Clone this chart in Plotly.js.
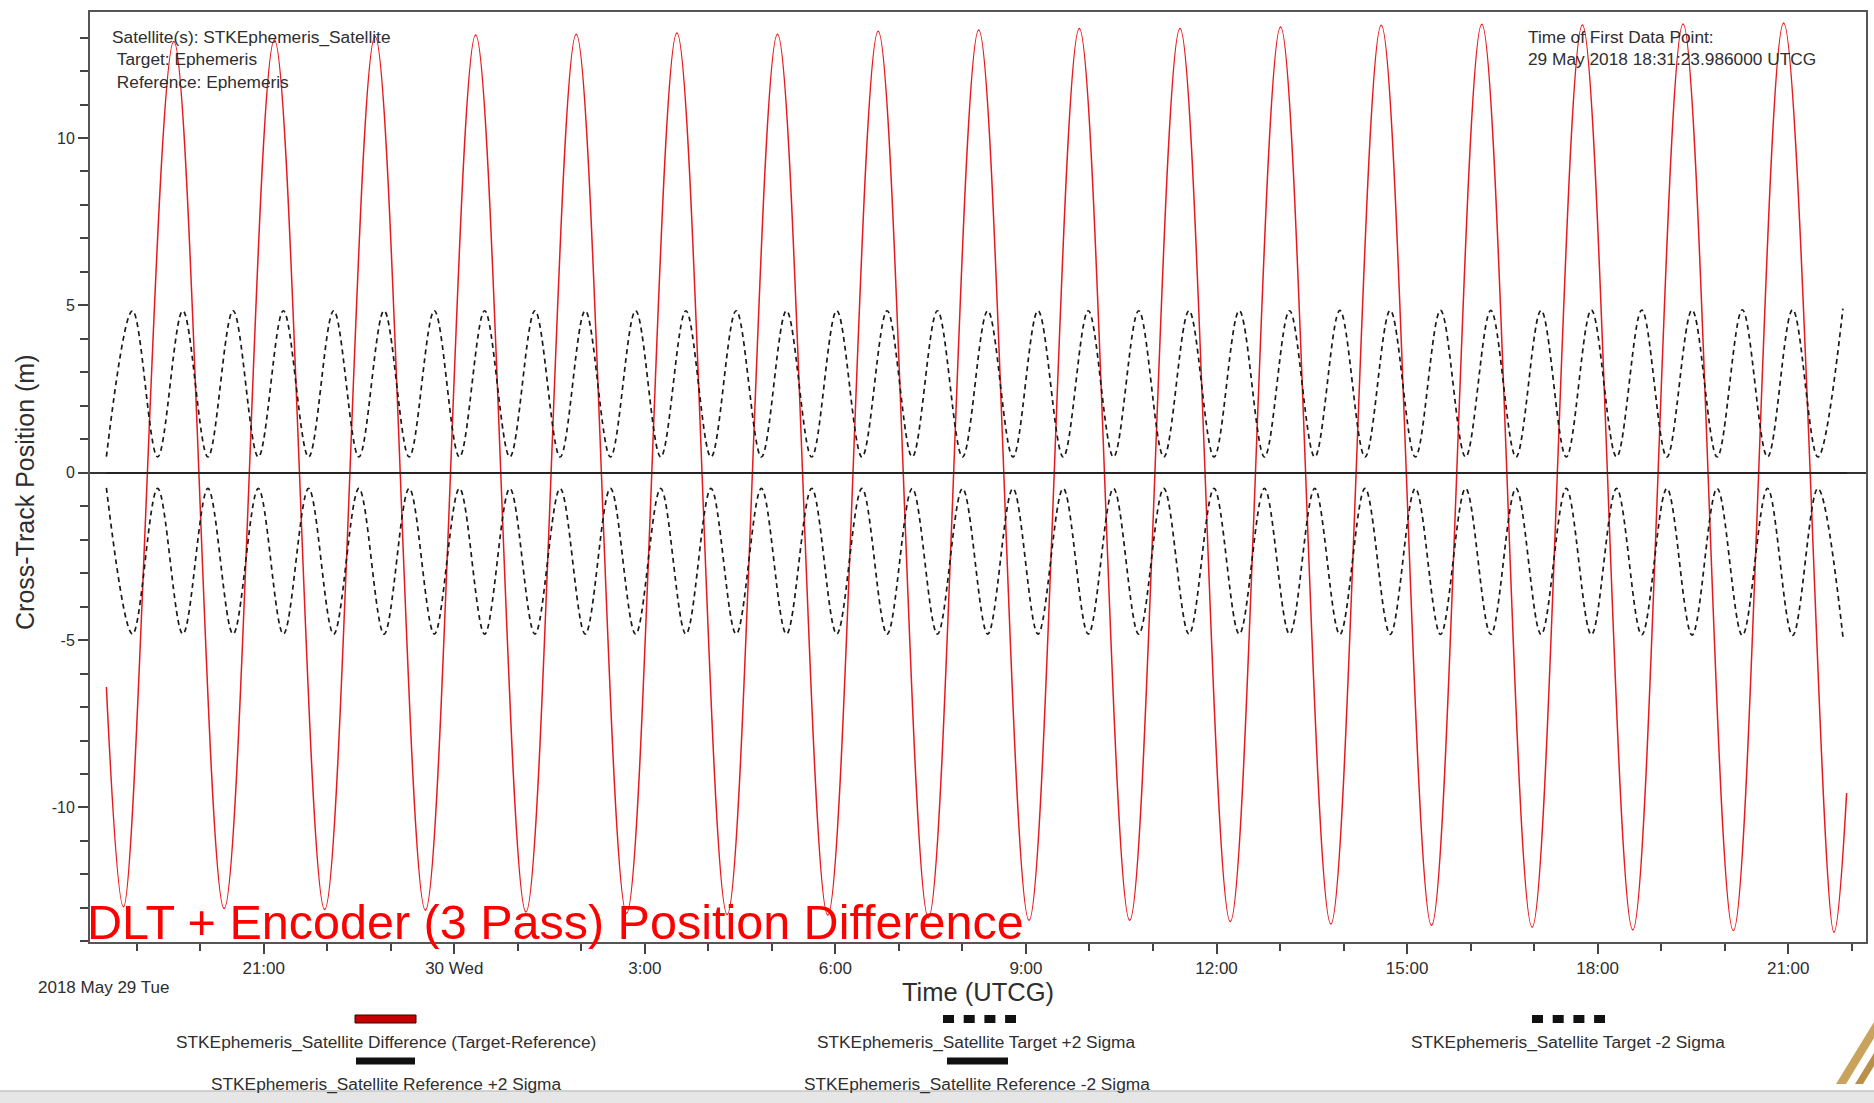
<!DOCTYPE html>
<html>
<head>
<meta charset="utf-8">
<script src="https://cdn.plot.ly/plotly-3.0.1.min.js"></script>
<style>
html,body{margin:0;padding:0;background:#ffffff;}
#chart{width:1874px;height:1103px;}
</style>
</head>
<body>
<div id="chart"></div>
<script>
// ---------- data ----------
const firstPoint = '2018-05-29T18:31:23.986Z';   // Time of First Data Point

// Difference (Target-Reference): minutes after first point, metres
const diffMinutes = [0, 16.2, 63.7, 111.2, 158.7, 206.2, 253.8, 301.3, 348.8, 396.3, 443.8,
  491.4, 538.9, 586.4, 633.9, 681.4, 729.0, 776.5, 824.0, 871.5, 919.0, 966.6, 1014.1,
  1061.6, 1109.1, 1156.6, 1204.2, 1251.7, 1299.2, 1346.7, 1394.2, 1441.8, 1489.3,
  1536.8, 1584.3, 1631.8, 1643.8];
const diffValues = [-6.4, -12.97, 12.88, -13.02, 12.93, -13.05, 13.03, -13.07, 13.08, -13.12, 13.10,
  -13.16, 13.14, -13.20, 13.10, -13.22, 13.19, -13.30, 13.23, -13.37, 13.27, -13.37, 13.27,
  -13.41, 13.32, -13.48, 13.37, -13.52, 13.40, -13.58, 13.38, -13.66, 13.41,
  -13.68, 13.44, -13.73, -9.57];

// Target +/-2 Sigma: minutes after first point, metres
const sigmaMinutes = [0, 24.7, 48.4, 72.2, 95.9, 119.7, 143.5, 167.2, 191.0, 214.7, 238.5,
  262.3, 286.0, 309.8, 333.5, 357.3, 381.1, 404.8, 428.6, 452.3, 476.1, 499.9, 523.6,
  547.4, 571.1, 594.9, 618.7, 642.4, 666.2, 689.9, 713.7, 737.5, 761.2, 785.0, 808.7,
  832.5, 856.3, 880.0, 903.8, 927.5, 951.3, 975.1, 998.8, 1022.6, 1046.3, 1070.1, 1093.9,
  1117.6, 1141.4, 1165.1, 1188.9, 1212.7, 1236.4, 1260.2, 1283.9, 1307.7, 1331.5, 1355.2,
  1379.0, 1402.7, 1426.5, 1450.3, 1474.0, 1497.8, 1521.5, 1545.3, 1569.1, 1592.8, 1616.6, 1640.3];
const targetPlusValues = [0.48, 4.84, 0.47, 4.84, 0.47, 4.84, 0.47, 4.84, 0.47, 4.84, 0.47,
  4.84, 0.47, 4.84, 0.47, 4.84, 0.47, 4.84, 0.47, 4.84, 0.47, 4.84, 0.47,
  4.84, 0.47, 4.84, 0.47, 4.84, 0.47, 4.84, 0.47, 4.84, 0.47, 4.84, 0.47,
  4.84, 0.47, 4.84, 0.47, 4.84, 0.47, 4.84, 0.47, 4.84, 0.47, 4.84, 0.47,
  4.84, 0.47, 4.85, 0.47, 4.85, 0.47, 4.85, 0.47, 4.85, 0.47, 4.85,
  0.47, 4.86, 0.47, 4.86, 0.47, 4.86, 0.47, 4.87, 0.47, 4.87, 0.47, 4.90];
const targetMinusValues = [-0.45, -4.82, -0.47, -4.82, -0.47, -4.82, -0.47, -4.82, -0.47, -4.82, -0.47,
  -4.82, -0.47, -4.82, -0.47, -4.82, -0.47, -4.82, -0.47, -4.82, -0.47, -4.82, -0.47,
  -4.82, -0.47, -4.82, -0.47, -4.82, -0.47, -4.82, -0.47, -4.82, -0.47, -4.82, -0.47,
  -4.82, -0.47, -4.82, -0.47, -4.82, -0.47, -4.82, -0.47, -4.82, -0.47, -4.82, -0.47,
  -4.82, -0.47, -4.83, -0.47, -4.83, -0.47, -4.83, -0.47, -4.83, -0.47, -4.83,
  -0.47, -4.84, -0.47, -4.84, -0.47, -4.85, -0.47, -4.86, -0.47, -4.86, -0.47, -4.90];

// Reference +/-2 Sigma
const refMinutes = [0, 1643.8];
const refPlusValues = [0, 0];
const refMinusValues = [0, 0];

// axes
const xRange = ['2018-05-29 18:15:55', '2018-05-30 22:13:30'];
const yRange = [-14.02, 13.765];
const xTickVals = ['2018-05-29 21:00', '2018-05-30 00:00', '2018-05-30 03:00', '2018-05-30 06:00',
  '2018-05-30 09:00', '2018-05-30 12:00', '2018-05-30 15:00', '2018-05-30 18:00', '2018-05-30 21:00'];
const xTickText = ['21:00', '30 Wed', '3:00', '6:00', '9:00', '12:00', '15:00', '18:00', '21:00'];
const yTickVals = [-10, -5, 0, 5, 10];
const yTickText = ['-10', '-5', '0', '5', '10'];

const seriesNames = ['STKEphemeris_Satellite Difference (Target-Reference)',
  'STKEphemeris_Satellite Target +2 Sigma', 'STKEphemeris_Satellite Target -2 Sigma',
  'STKEphemeris_Satellite Reference +2 Sigma', 'STKEphemeris_Satellite Reference -2 Sigma'];

// ---------- helpers ----------
function toTime(m) {
  const d = new Date(Date.parse(firstPoint) + m * 60000);
  return d.toISOString().replace('T', ' ').replace('Z', '');
}
const W = 1874, H = 1103;
const PL = 90, PR = 1866, PT = 12, PB = 942;
const px = x => (x - PL) / (PR - PL);
const py = y => (PB - y) / (PB - PT);
const FONT = 'Liberation Sans, Arial, sans-serif';
const TXT = '#2e2e2e';

// ---------- traces ----------
const traces = [
  { type: 'scatter', mode: 'lines', name: seriesNames[0],
    x: diffMinutes.map(toTime), y: diffValues,
    line: { color: '#e8191c', width: 1.5, shape: 'spline', smoothing: 1 } },
  { type: 'scatter', mode: 'lines', name: seriesNames[1],
    x: sigmaMinutes.map(toTime), y: targetPlusValues,
    line: { color: '#1a1a1a', width: 1.7, dash: '5px,4px', shape: 'spline', smoothing: 1 } },
  { type: 'scatter', mode: 'lines', name: seriesNames[2],
    x: sigmaMinutes.map(toTime), y: targetMinusValues,
    line: { color: '#1a1a1a', width: 1.7, dash: '5px,4px', shape: 'spline', smoothing: 1 } },
  { type: 'scatter', mode: 'lines', name: seriesNames[3],
    x: refMinutes.map(toTime), y: refPlusValues,
    line: { color: '#222222', width: 1.5 } },
  { type: 'scatter', mode: 'lines', name: seriesNames[4],
    x: refMinutes.map(toTime), y: refMinusValues,
    line: { color: '#222222', width: 1.5 } }
];

// ---------- custom legend (symbol above text) ----------
const legendItems = [
  { kind: 'red',  x0: 355, x1: 416, ys: 1019, tx: 386, ty: 1042, name: seriesNames[0] },
  { kind: 'dash', x0: 943, x1: 1016, ys: 1019, tx: 976, ty: 1042, name: seriesNames[1] },
  { kind: 'dash', x0: 1532, x1: 1605, ys: 1019, tx: 1568, ty: 1042, name: seriesNames[2] },
  { kind: 'solid', x0: 356, x1: 415, ys: 1061, tx: 386, ty: 1084, name: seriesNames[3] },
  { kind: 'solid', x0: 947, x1: 1008, ys: 1061, tx: 977, ty: 1084, name: seriesNames[4] }
];

const shapes = [];
const annotations = [];
legendItems.forEach(it => {
  if (it.kind === 'red') {
    shapes.push({ type: 'rect', xref: 'paper', yref: 'paper',
      x0: px(it.x0), x1: px(it.x1), y0: py(it.ys - 4), y1: py(it.ys + 4),
      fillcolor: '#c40000', line: { color: '#3a0000', width: 1 } });
  } else if (it.kind === 'solid') {
    shapes.push({ type: 'rect', xref: 'paper', yref: 'paper',
      x0: px(it.x0), x1: px(it.x1), y0: py(it.ys - 3.5), y1: py(it.ys + 3.5),
      fillcolor: '#111111', line: { width: 0 } });
  } else {
    shapes.push({ type: 'line', xref: 'paper', yref: 'paper',
      x0: px(it.x0), x1: px(it.x1), y0: py(it.ys), y1: py(it.ys),
      line: { color: '#111111', width: 8, dash: '11px,9.7px' } });
  }
  annotations.push({ xref: 'paper', yref: 'paper', x: px(it.tx), y: py(it.ty),
    xanchor: 'center', yanchor: 'middle', showarrow: false, text: it.name,
    font: { family: FONT, size: 17.3, color: TXT } });
});

// bottom window strip and partial logo
shapes.push({ type: 'rect', xref: 'paper', yref: 'paper', layer: 'below',
  x0: px(0), x1: px(W), y0: py(H), y1: py(1091),
  fillcolor: '#e6e6e6', line: { width: 0 } });
shapes.push({ type: 'line', xref: 'paper', yref: 'paper',
  x0: px(0), x1: px(W), y0: py(1091), y1: py(1091),
  line: { color: '#c4c4c4', width: 1.5 } });
shapes.push({ type: 'path', xref: 'paper', yref: 'paper',
  path: 'M' + px(1836) + ',' + py(1084) + ' L' + px(1846) + ',' + py(1084) +
        ' L' + px(1874) + ',' + py(1038) + ' L' + px(1874) + ',' + py(1022) + ' Z',
  fillcolor: '#c9a35c', line: { width: 0 } });
shapes.push({ type: 'path', xref: 'paper', yref: 'paper',
  path: 'M' + px(1855) + ',' + py(1084) + ' L' + px(1863) + ',' + py(1084) +
        ' L' + px(1874) + ',' + py(1066) + ' L' + px(1874) + ',' + py(1053) + ' Z',
  fillcolor: '#b8904a', line: { width: 0 } });

// info texts
annotations.push({ xref: 'paper', yref: 'paper', x: px(110), y: py(59),
  xanchor: 'left', yanchor: 'middle', align: 'left', showarrow: false,
  text: 'Satellite(s): STKEphemeris_Satellite<br>\u00a0Target: Ephemeris<br>\u00a0Reference: Ephemeris',
  font: { family: FONT, size: 17.3, color: TXT } });
annotations.push({ xref: 'paper', yref: 'paper', x: px(1526), y: py(48),
  xanchor: 'left', yanchor: 'middle', align: 'left', showarrow: false,
  text: 'Time of First Data Point:<br>29 May 2018 18:31:23.986000 UTCG',
  font: { family: FONT, size: 17.3, color: TXT } });
annotations.push({ xref: 'paper', yref: 'paper', x: px(36), y: py(987),
  xanchor: 'left', yanchor: 'middle', showarrow: false,
  text: '2018 May 29 Tue', font: { family: FONT, size: 17, color: TXT } });
annotations.push({ xref: 'paper', yref: 'paper', x: px(85), y: py(922),
  xanchor: 'left', yanchor: 'middle', showarrow: false,
  text: 'DLT + Encoder (3 Pass) Position Difference',
  font: { family: FONT, size: 48.5, color: '#ff0000' } });
// y-axis title (placed as in the reference, slightly below the plot centre)
annotations.push({ xref: 'paper', yref: 'paper', x: px(25), y: py(492),
  xanchor: 'center', yanchor: 'middle', showarrow: false, textangle: -90,
  text: 'Cross-Track Position (m)', font: { family: FONT, size: 25, color: TXT } });

const layout = {
  width: W, height: H,
  margin: { l: PL, r: W - PR, t: PT, b: H - PB, pad: 0 },
  paper_bgcolor: '#ffffff', plot_bgcolor: '#ffffff',
  showlegend: false,
  font: { family: FONT, size: 17, color: TXT },
  xaxis: {
    type: 'date', range: xRange, autorange: false,
    tickmode: 'array', tickvals: xTickVals, ticktext: xTickText,
    ticks: 'outside', ticklen: 10, tickwidth: 1.5, tickcolor: '#444',
    minor: { tickmode: 'linear', tick0: '2018-05-29 00:00', dtick: 3600000,
             ticks: 'outside', ticklen: 7, tickwidth: 1.5, tickcolor: '#444', showgrid: false },
    tickfont: { family: FONT, size: 17, color: TXT },
    showgrid: false, zeroline: false,
    showline: true, linecolor: '#555', linewidth: 2, mirror: true,
    title: { text: 'Time (UTCG)', font: { family: FONT, size: 25.5, color: TXT }, standoff: 5 }
  },
  yaxis: {
    range: yRange, autorange: false,
    tickmode: 'array', tickvals: yTickVals, ticktext: yTickText,
    ticks: 'outside', ticklen: 10, tickwidth: 1.5, tickcolor: '#444',
    minor: { tickmode: 'linear', tick0: 0, dtick: 1,
             ticks: 'outside', ticklen: 8, tickwidth: 1.5, tickcolor: '#444', showgrid: false },
    tickfont: { family: FONT, size: 16, color: TXT },
    showgrid: false,
    zeroline: true, zerolinecolor: '#333', zerolinewidth: 1.5,
    showline: true, linecolor: '#555', linewidth: 2, mirror: true
  },
  shapes: shapes,
  annotations: annotations
};

Plotly.newPlot('chart', traces, layout, { displayModeBar: false, responsive: false });
</script>
</body>
</html>
